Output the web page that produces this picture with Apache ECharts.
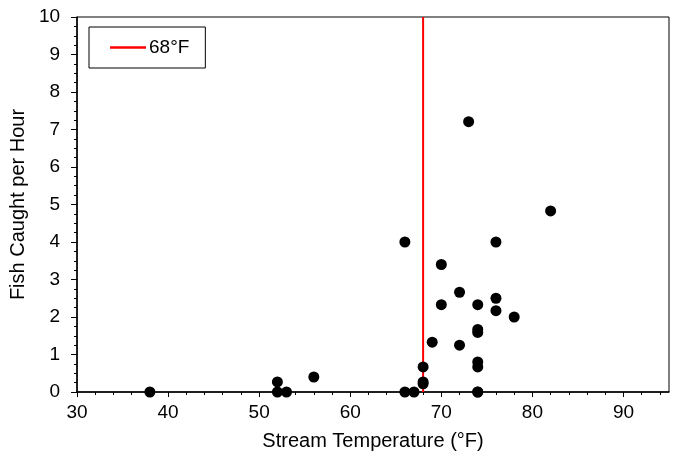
<!DOCTYPE html>
<html><head><meta charset="utf-8">
<script src="https://cdn.jsdelivr.net/npm/echarts@6/dist/echarts.min.js"></script>
<style>html,body{margin:0;padding:0;background:#fff}#c{width:676px;height:456px}</style>
</head><body><div id="c"></div>
<script>
const temps = [38, 52, 52, 53, 56, 66, 66, 67, 68, 68, 68, 69, 70, 70, 72, 72, 73, 74, 74, 74, 74, 74, 74, 74, 76, 76, 76, 78, 82];
const fish  = [0, 0.27, 0, 0, 0.40, 4.0, 0, 0, 0.67, 0.27, 0.22, 1.33, 3.40, 2.33, 2.66, 1.25, 7.21, 2.33, 1.67, 1.59, 0.80, 0.67, 0, 0, 4.0, 2.50, 2.17, 2.0, 4.83];
const threshold = 68;
const thresholdName = '68°F';
const xMajorTicks = [30, 40, 50, 60, 70, 80, 90];
const xMinorTicks = [32, 34, 36, 38, 42, 44, 46, 48, 52, 54, 56, 58, 62, 64, 66, 68, 72, 74, 76, 78, 82, 84, 86, 88, 92, 94];
const xMin = 30, xMax = 95, yMin = 0, yMax = 10;

const font = '"Liberation Sans", Arial, sans-serif';
const chart = echarts.init(document.getElementById('c'), null, {renderer: 'canvas'});
chart.setOption({
  animation: false,
  grid: {left: 76, right: 7, top: 17, bottom: 64, show: true, borderColor: '#000', borderWidth: 1},
  legend: {
    left: 89, top: 27, orient: 'vertical',
    data: [{name: thresholdName, icon: 'rect'}],
    borderColor: '#000', borderWidth: 1,
    padding: [11, 16, 11, 21],
    itemWidth: 36, itemHeight: 2.5,
    textStyle: {fontFamily: font, fontSize: 19, color: '#000', padding: [0,0,0,-2]}
  },
  xAxis: [{
    type: 'value', min: xMin, max: xMax, interval: 10,
    name: 'Stream Temperature (°F)', nameLocation: 'middle', nameGap: 39,
    nameTextStyle: {fontFamily: font, fontSize: 20, color: '#000'},
    axisLine: {show: true, onZero: false, lineStyle: {color: '#000', width: 1.5}},
    axisTick: {show: true, inside: false, length: 5, customValues: xMajorTicks, lineStyle: {color: '#000', width: 1}},
    axisLabel: {customValues: xMajorTicks, margin: 11, fontFamily: font, fontSize: 19, color: '#000'},
    splitLine: {show: false}
  }, {
    type: 'value', min: xMin, max: xMax, position: 'bottom',
    axisLine: {show: false},
    axisTick: {show: true, inside: false, length: 3, customValues: xMinorTicks, lineStyle: {color: '#000', width: 1}},
    axisLabel: {show: false},
    splitLine: {show: false}
  }],
  yAxis: {
    type: 'value', min: yMin, max: yMax, interval: 1,
    name: 'Fish Caught per Hour', nameLocation: 'middle', nameGap: 41,
    nameTextStyle: {fontFamily: font, fontSize: 20, color: '#000'},
    axisLine: {show: true, onZero: false, lineStyle: {color: '#000', width: 1.5}},
    axisTick: {show: true, inside: false, length: 6, lineStyle: {color: '#000', width: 1}},
    minorTick: {show: true, splitNumber: 4, length: 3, lineStyle: {color: '#000', width: 1}},
    axisLabel: {margin: 17, fontFamily: font, fontSize: 19, color: '#000'},
    splitLine: {show: false}
  },
  series: [{
    name: thresholdName, type: 'line', xAxisIndex: 0,
    data: [[threshold, yMin], [threshold, yMax]],
    symbol: 'none', lineStyle: {color: '#ff0000', width: 2}, itemStyle: {color: '#ff0000'}, z: 2
  }, {
    name: 'data', type: 'scatter', xAxisIndex: 0,
    data: temps.map((t, i) => [t, fish[i]]),
    symbol: 'circle', symbolSize: 11, itemStyle: {color: '#000', opacity: 1}, z: 5
  }]
});
</script></body></html>
